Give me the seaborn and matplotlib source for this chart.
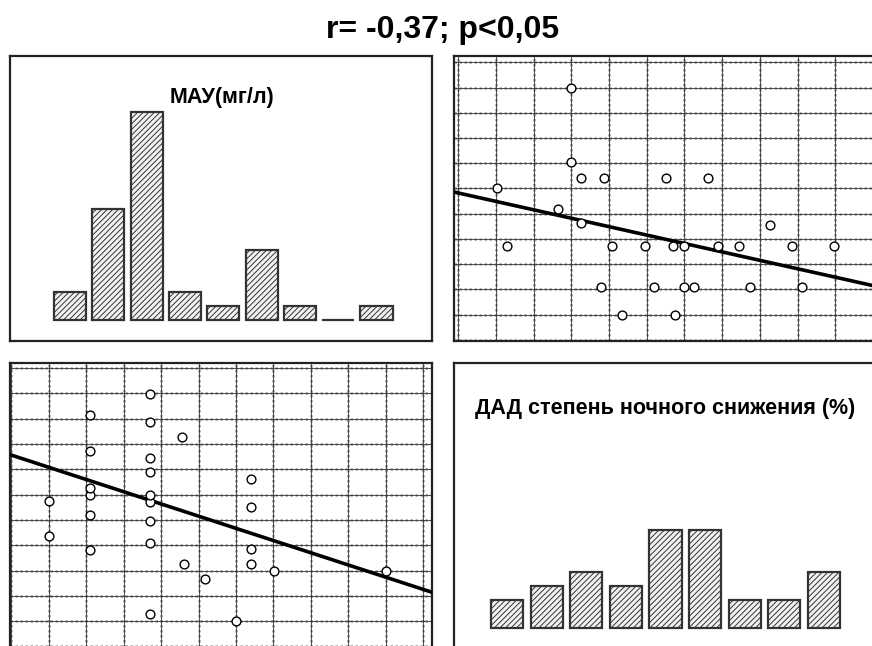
import matplotlib
# Use Agg backend for headless environments
matplotlib.use('Agg')
import matplotlib.pyplot as plt
import seaborn as sns
import numpy as np

# histogram counts (9 bins each)
mau_bins = ['1', '2', '3', '4', '5', '6', '7', '8', '9']
mau_counts = [2, 8, 15, 2, 1, 5, 1, 0, 1]
dad_bins = ['1', '2', '3', '4', '5', '6', '7', '8', '9']
dad_counts = [2, 3, 4, 3, 7, 7, 2, 2, 4]

# paired observations in grid units (МАУ, ДАД)
mau = [10.0, 7.03, 6.41, 6.41, 6.41, 6.41, 6.0, 5.18, 4.62, 4.56,
       3.70, 3.70, 3.70, 3.70, 3.70, 3.70, 3.70, 3.70, 3.70,
       2.10, 2.10, 2.10, 2.10, 2.10, 2.10, 1.0, 1.0]
dad = [3.0, 3.0, 3.25, 3.87, 5.5, 6.63, 1.02, 2.65, 3.26, 8.27,
       1.30, 4.08, 4.95, 5.70, 6.00, 6.90, 7.46, 8.86, 9.96,
       3.80, 5.18, 5.98, 6.26, 7.73, 9.13, 4.35, 5.76]

# regression lines as drawn: (intercept, slope)
fit_mau_on_dad = (5.82, -0.334)
fit_dad_on_mau = (7.56, -0.482)

title = 'r= -0,37; p<0,05'
title_mau = 'МАУ(мг/л)'
title_dad = 'ДАД степень ночного снижения (%)'

sns.set_style('white')
plt.rcParams['font.family'] = ['Liberation Sans', 'DejaVu Sans']
plt.rcParams['text.color'] = 'black'
plt.rcParams['hatch.linewidth'] = 0.7

W, H = 872, 646
fig = plt.figure(figsize=(W / 100, H / 100), dpi=100)


def px_axes(left, top, right, bottom):
    return fig.add_axes([left / W, 1 - bottom / H, (right - left) / W, (bottom - top) / H])


def style_box(ax, hide=()):
    ax.set_xticks([])
    ax.set_yticks([])
    ax.set_xlabel('')
    ax.set_ylabel('')
    for name, sp in ax.spines.items():
        sp.set_visible(name not in hide)
        sp.set_color('#222222')
        sp.set_linewidth(1.6)


def draw_grid(ax):
    for v in range(12):
        for fn in (ax.axvline, ax.axhline):
            fn(v, color='#a0a0a0', lw=1.8, ls=(0, (1, 1)), zorder=1)
            fn(v, color='#333333', lw=0.6, zorder=1.1)


def hist_panel(ax, bins, counts, width):
    sns.barplot(x=bins, y=counts, ax=ax, color='#f2f2f2', saturation=1,
                edgecolor='#333333', linewidth=1.6, width=width, hatch='//////')


def scatter_panel(ax, x, y, fit, xlim, ylim):
    draw_grid(ax)
    sns.scatterplot(x=x, y=y, ax=ax, s=40, color='white', edgecolor='black',
                    linewidth=1.0, zorder=4)
    xs = np.array(xlim)
    sns.lineplot(x=xs, y=fit[0] + fit[1] * xs, ax=ax, color='black', lw=2.6, zorder=3)
    ax.set_xlim(*xlim)
    ax.set_ylim(*ylim)


# top-left: МАУ histogram
ax_tl = px_axes(10, 56, 432, 341)
hist_panel(ax_tl, mau_bins, mau_counts, 0.84)
ax_tl.set_xlim(-1.57, 9.45)
ax_tl.set_ylim(-1.52, 19.0)
style_box(ax_tl)
ax_tl.text(0.502, 0.856, title_mau, transform=ax_tl.transAxes, ha='center', va='center',
           fontsize=15.5, fontweight='bold')

# top-right: МАУ vs ДАД
ax_tr = px_axes(454, 56, 873, 341)
scatter_panel(ax_tr, dad, mau, fit_mau_on_dad, (-0.11, 11.0), (-0.05, 11.25))
style_box(ax_tr, hide=('right',))

# bottom-left: ДАД vs МАУ
ax_bl = px_axes(10, 363, 432, 647)
scatter_panel(ax_bl, mau, dad, fit_dad_on_mau, (-0.04, 11.24), (-0.02, 11.2))
style_box(ax_bl, hide=('bottom',))

# bottom-right: ДАД histogram
ax_br = px_axes(454, 363, 873, 647)
hist_panel(ax_br, dad_bins, dad_counts, 0.81)
ax_br.set_xlim(-1.34, 9.24)
ax_br.set_ylim(-1.33, 18.9)
style_box(ax_br, hide=('bottom', 'right'))
ax_br.text(0.505, 0.841, title_dad, transform=ax_br.transAxes, ha='center', va='center',
           fontsize=15.5, fontweight='bold')

fig.text(443 / W, 1 - 30 / H, title, ha='center', va='center', fontsize=23, fontweight='bold')

fig.savefig('out.png', dpi=100)
plt.close(fig)
